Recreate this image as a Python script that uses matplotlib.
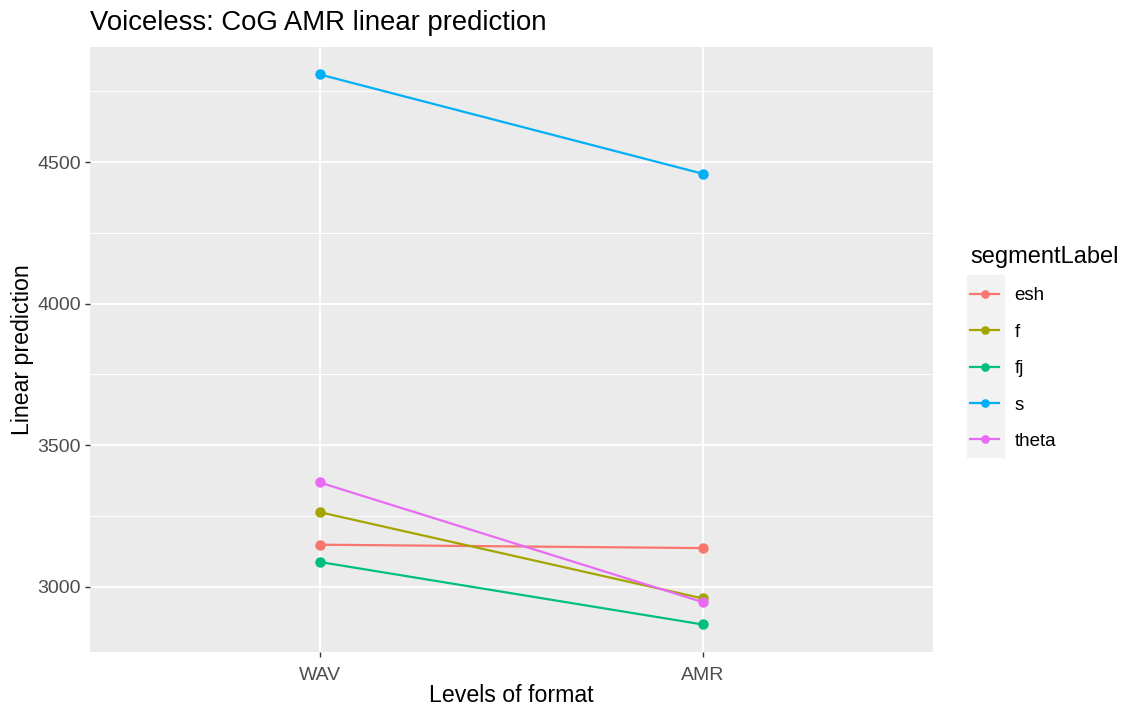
import matplotlib.pyplot as plt
from matplotlib.patches import Rectangle
from matplotlib.ticker import MultipleLocator

plt.rcParams['font.family'] = ['Liberation Sans', 'DejaVu Sans']

# values
formats = ['WAV', 'AMR']
labels = ['esh', 'f', 'fj', 's', 'theta']
esh = [3148, 3136]
f = [3263, 2958]
fj = [3087, 2866]
s = [4810, 4459]
theta = [3368, 2945]
colors = ['#F8766D', '#A3A500', '#00BF7D', '#00B0F6', '#E76BF3']

series = [esh, f, fj, s, theta]

fig = plt.figure(figsize=(11.21, 7.11), dpi=100)
ax = fig.add_axes([0.080, 0.083, 0.752, 0.851])
ax.set_facecolor('#EBEBEB')

x = list(range(len(formats)))
handles = []
for name, vals, c in zip(labels, series, colors):
    h, = ax.plot(x, vals, color=c, lw=1.6, marker='o', ms=6.5, label=name)
    handles.append(h)

ax.set_xlim(-0.6, 1.6)
ax.margins(y=0.05)
ax.set_xticks(x)
ax.set_xticklabels(formats)
ax.yaxis.set_major_locator(MultipleLocator(500))
ax.yaxis.set_minor_locator(MultipleLocator(250))
ax.grid(which='major', color='white', lw=1.3)
ax.grid(which='minor', axis='y', color='white', lw=0.7)
ax.set_axisbelow(True)
for sp in ax.spines.values():
    sp.set_visible(False)
ax.tick_params(which='major', length=3.5, width=1, color='#333333',
               labelsize=14, labelcolor='#4D4D4D', pad=3)
ax.tick_params(axis='x', pad=7)
ax.tick_params(which='minor', length=0)

ax.set_xlabel('Levels of format', fontsize=16.7, labelpad=0)
ax.set_ylabel('Linear prediction', fontsize=16.7, labelpad=2)
ax.set_title('Voiceless: CoG AMR linear prediction', fontsize=19.8,
             loc='left', pad=12.5)

# grey background behind the legend keys
fig.patches.append(Rectangle((0.8626, 0.357), 0.033, 0.256,
                             transform=fig.transFigure, color='#F2F2F2',
                             zorder=0))
leg = fig.legend(handles=handles, loc='upper left',
                 bbox_to_anchor=(0.8505, 0.678), frameon=False,
                 title='segmentLabel', title_fontsize=17, fontsize=13.5,
                 handlelength=1.55, labelspacing=1.03, handletextpad=0.8,
                 markerscale=0.8)
leg._legend_box.align = 'left'

plt.savefig('out.png', dpi=100)
